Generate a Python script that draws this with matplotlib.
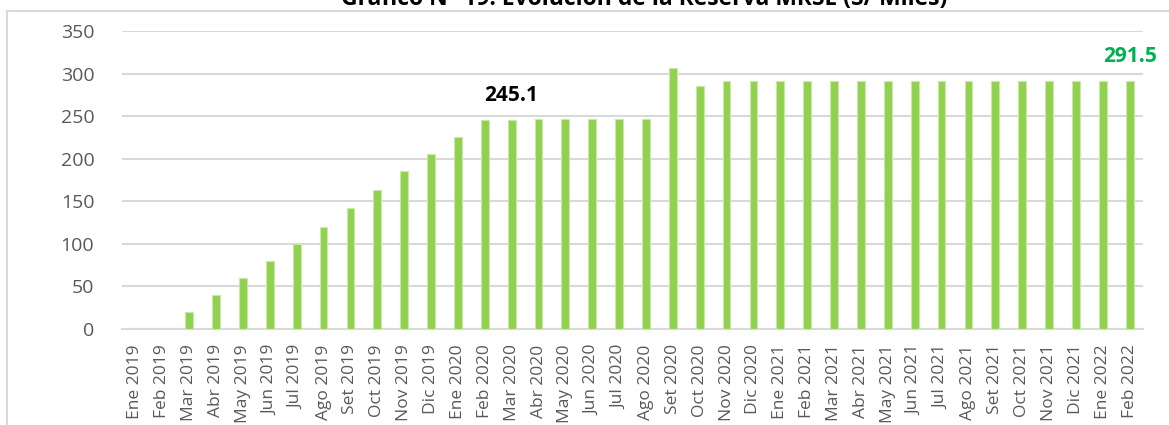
import matplotlib
matplotlib.use('Agg')
import matplotlib.pyplot as plt
from matplotlib.patches import Rectangle

plt.rcParams['font.family'] = ['Open Sans', 'DejaVu Sans']

# monthly labels and reserve values (S/ thousands)
months = ['Ene 2019', 'Feb 2019', 'Mar 2019', 'Abr 2019', 'May 2019', 'Jun 2019',
          'Jul 2019', 'Ago 2019', 'Set 2019', 'Oct 2019', 'Nov 2019', 'Dic 2019',
          'Ene 2020', 'Feb 2020', 'Mar 2020', 'Abr 2020', 'May 2020', 'Jun 2020',
          'Jul 2020', 'Ago 2020', 'Set 2020', 'Oct 2020', 'Nov 2020', 'Dic 2020',
          'Ene 2021', 'Feb 2021', 'Mar 2021', 'Abr 2021', 'May 2021', 'Jun 2021',
          'Jul 2021', 'Ago 2021', 'Set 2021', 'Oct 2021', 'Nov 2021', 'Dic 2021',
          'Ene 2022', 'Feb 2022']
reserva = [0, 0, 20, 40, 60, 80,
           100, 120, 142, 163, 185, 205,
           225, 245.0, 245.1, 246.5, 246.5, 246.5,
           246.5, 246.5, 306.5, 286, 291.3, 291.3,
           291.3, 291.3, 291.3, 291.3, 291.0, 291.0,
           291.0, 291.0, 291.0, 291.0, 291.0, 291.2,
           291.4, 291.5]

# labelled bars: (index, colour)
labelled = [(14, 'black'), (37, '#00B050')]

bar_color = '#92D050'
grid_color = '#D9D9D9'
text_gray = '#595959'

fig = plt.figure(figsize=(11.69, 4.25), dpi=100)
ax = fig.add_axes([0.1044, 0.2259, 0.8734, 0.7011])

x = list(range(len(months)))
ax.bar(x, reserva, width=0.29, color=bar_color, edgecolor='#C9E9A6', linewidth=0.8, zorder=3)

ax.set_ylim(0, 350)
ax.set_xlim(-0.5, len(months) - 0.5)
ax.set_yticks(range(0, 351, 50))
ax.yaxis.grid(True, color=grid_color, linewidth=1.5, zorder=0)
ax.set_axisbelow(True)

for side in ['top', 'right', 'left']:
    ax.spines[side].set_visible(False)
ax.spines['bottom'].set_color(grid_color)
ax.spines['bottom'].set_linewidth(1.5)

ax.set_xticks(x)
ax.set_xticklabels(months, rotation=90, fontsize=12.5, color=text_gray)
ax.tick_params(axis='x', length=0, pad=11)
ax.tick_params(axis='y', length=0, pad=20, labelsize=14, labelcolor=text_gray)

for i, col in labelled:
    ax.text(i, reserva[i] + 29, '{:.1f}'.format(reserva[i]), ha='center', va='center',
            fontsize=15, fontweight='bold', color=col)

# chart border (runs off the image on the right and bottom)
fig.patches.append(Rectangle((7 / 1169, -0.1), 1.2, 1.1 - 11 / 425, transform=fig.transFigure,
                             fill=False, edgecolor=grid_color, linewidth=1.5))

# title is partly cut off at the top, as in the source image
fig.text(644 / 1169, 1 - 5 / 425, 'Gráfico N° 19: Evolución de la Reserva MRSE (S/ Miles)',
         ha='center', va='baseline', fontsize=16.5, fontweight='bold', color='black')

fig.savefig('out.png', dpi=100)
